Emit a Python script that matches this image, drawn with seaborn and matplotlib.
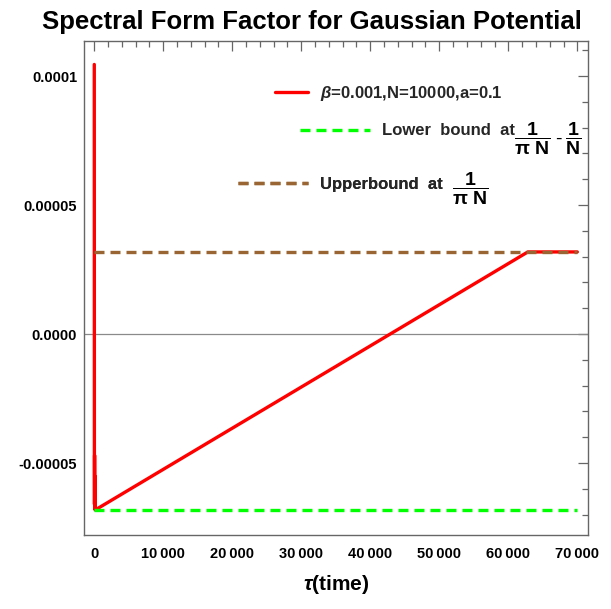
import matplotlib
matplotlib.use("Agg")
import matplotlib.pyplot as plt
import seaborn as sns
import numpy as np
import pandas as pd
from matplotlib.lines import Line2D
from matplotlib.ticker import MultipleLocator

# ---- data ----
tau = [0, 15, 30, 45, 60, 75, 90, 150, 62832, 70000]
sff = [1.045e-4, -4.57e-5, -6.6e-5, -4.7e-5, -6.75e-5, -5.5e-5, -6.8e-5, -6.817e-5, 3.183e-5, 3.183e-5]
bound_tau = [0, 70000]
upper_bound = [3.183e-5, 3.183e-5]
lower_bound = [-6.817e-5, -6.817e-5]
x_ticks = [0, 10000, 20000, 30000, 40000, 50000, 60000, 70000]
x_tick_labels = ["0", "10\u2009000", "20\u2009000", "30\u2009000", "40\u2009000",
                 "50\u2009000", "60\u2009000", "70\u2009000"]
y_ticks = [-5e-5, 0.0, 5e-5, 1e-4]
y_tick_labels = ["-0.00005", "0.0000", "0.00005", "0.0001"]
title = "Spectral Form Factor for Gaussian Potential"
label_main = r"$\beta$=0.001,N=10000,a=0.1"
label_lower = "Lower  bound  at"
frac_lower = "$\\dfrac{1}{\\mathrm{\\pi\\ N}}$\u2009-\u2009$\\dfrac{1}{\\mathrm{N}}$"
label_upper = "Upperbound  at"
frac_upper = r"$\dfrac{1}{\mathrm{\pi\ N}}$"

sns.set_theme(style="white")
plt.rcParams["font.family"] = ["Liberation Sans", "DejaVu Sans"]
plt.rcParams["mathtext.fontset"] = "custom"
plt.rcParams["mathtext.rm"] = "Liberation Sans:bold"
plt.rcParams["mathtext.it"] = "Liberation Sans:italic:bold"
plt.rcParams["mathtext.bf"] = "Liberation Sans:bold"

fig = plt.figure(figsize=(6.11, 6.09), dpi=100)
ax = fig.add_axes([84/611, 1-535/609, 504/611, 494/609])

red, green, brown = "#FF0000", "#00FF00", "#996633"
lw = 2.4
ax.axhline(0, color="#8a8a8a", lw=0.9, zorder=1)
sns.lineplot(x=tau, y=sff, ax=ax, color=red, lw=lw, sort=False, estimator=None, zorder=3)
sns.lineplot(x=bound_tau, y=upper_bound, ax=ax, color=brown, lw=lw, zorder=4)
sns.lineplot(x=bound_tau, y=lower_bound, ax=ax, color=green, lw=lw, zorder=4)
for ln in ax.lines[-2:]:
    ln.set_dashes([3.0, 1.8])

ax.set_xlim(-1490, 71550)
ax.set_ylim(-7.79e-5, 1.136e-4)

ax.set_xticks(x_ticks)
ax.set_xticklabels(x_tick_labels)
ax.set_yticks(y_ticks)
ax.set_yticklabels(y_tick_labels)
ax.xaxis.set_minor_locator(MultipleLocator(2000))
ax.yaxis.set_minor_locator(MultipleLocator(1e-5))
spine_col = "#666666"
ax.tick_params(which="both", direction="in", top=True, right=True, color=spine_col, width=0.9)
ax.tick_params(which="major", length=7)
ax.tick_params(which="minor", length=4)
ax.tick_params(axis="x", which="major", pad=9)
ax.tick_params(axis="y", which="major", pad=5)
for lab in ax.get_xticklabels() + ax.get_yticklabels():
    lab.set_fontsize(10.5)
    lab.set_fontweight("bold")
    lab.set_color("black")
for s in ax.spines.values():
    s.set_color(spine_col)
    s.set_linewidth(1.0)

ax.set_title(title, fontsize=18.5, fontweight="bold", pad=9, color="black",
             x=(312-84)/504)
ax.set_xlabel(r"$\tau$(time)", fontsize=15, fontweight="bold", labelpad=8, color="black")

# legend entries (three separately placed single-entry legends)
lfont = {"family": "Liberation Sans", "weight": "bold", "size": 12}
entries = [
    (Line2D([], [], color=red, lw=lw), label_main, (0.379, 0.8947), 2.0),
    (Line2D([], [], color=green, lw=lw, dashes=[3.0, 1.8]), label_lower, (0.4286, 0.818), 4.2),
    (Line2D([], [], color=brown, lw=lw, dashes=[3.0, 1.8]), label_upper, (0.3056, 0.709), 4.2),
]
for h, lab, anchor, hl in entries:
    leg = ax.legend([h], [lab], loc="center left", bbox_to_anchor=anchor,
                    frameon=False, borderpad=0, borderaxespad=0,
                    handlelength=hl, handletextpad=0.7, prop=lfont)
    ax.add_artist(leg)

ffont = dict(fontsize=14, color="black", va="center", ha="left", transform=ax.transAxes)
ax.text((514-84)/504, (535-139)/494, frac_lower, **ffont)
ax.text((452-84)/504, (535-189)/494, frac_upper, **ffont)

fig.savefig("out.png", dpi=100)
